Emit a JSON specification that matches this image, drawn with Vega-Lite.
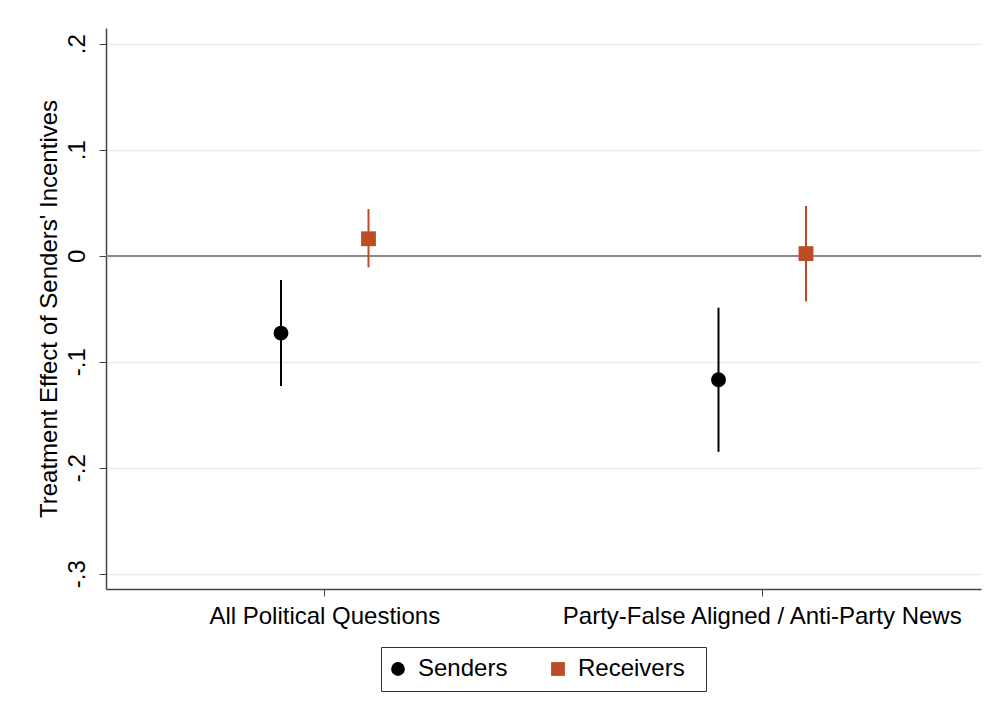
{
  "$schema": "https://vega.github.io/schema/vega-lite/v6.json",
  "width": 875,
  "height": 561,
  "autosize": {"type": "none"},
  "padding": {"left": 106, "top": 28, "right": 16, "bottom": 136},
  "background": "white",
  "config": {
    "view": {"stroke": null},
    "font": "Liberation Sans",
    "axis": {"labelFont": "Liberation Sans", "titleFont": "Liberation Sans", "labelColor": "black", "titleColor": "black", "titleFontWeight": "normal"},
    "legend": {"labelFont": "Liberation Sans", "labelColor": "black", "titleFont": "Liberation Sans"}
  },
  "data": {
    "values": [
      {"sample": "All Political Questions", "group": "Senders", "est": -0.073, "lo": -0.123, "hi": -0.023},
      {"sample": "All Political Questions", "group": "Receivers", "est": 0.016, "lo": -0.011, "hi": 0.044},
      {"sample": "Party-False Aligned / Anti-Party News", "group": "Senders", "est": -0.117, "lo": -0.185, "hi": -0.049},
      {"sample": "Party-False Aligned / Anti-Party News", "group": "Receivers", "est": 0.002, "lo": -0.043, "hi": 0.047}
    ]
  },
  "encoding": {
    "x": {
      "field": "sample", "type": "nominal", "sort": null, "title": null,
      "scale": {"type": "band", "paddingInner": 0.2, "paddingOuter": 0.1},
      "axis": {"labelAngle": 0, "labelFontSize": 24, "labelLimit": 1000, "tickSize": 7, "labelPadding": 8, "domainColor": "#444", "tickColor": "#444", "domainWidth": 1.5, "grid": false}
    },
    "xOffset": {
      "field": "group", "type": "nominal", "sort": ["Senders", "Receivers"],
      "scale": {"type": "band", "paddingInner": 0, "paddingOuter": 1}
    }
  },
  "layer": [
    {
      "mark": {"type": "rule", "color": "#888", "strokeWidth": 1.5},
      "encoding": {"y": {"datum": 0, "type": "quantitative"}, "x": null, "xOffset": null}
    },
    {
      "mark": {"type": "rule", "strokeWidth": 2},
      "encoding": {
        "y": {
          "field": "lo", "type": "quantitative",
          "title": "Treatment Effect of Senders' Incentives",
          "scale": {"domain": [-0.3144, 0.2148], "nice": false, "zero": false},
          "axis": {
            "values": [-0.3, -0.2, -0.1, 0, 0.1, 0.2],
            "labelExpr": "datum.value == 0 ? '0' : (datum.value < 0 ? '-.' : '.') + format(abs(datum.value) * 10, '.0f')",
            "labelAngle": -90, "labelAlign": "center", "labelBaseline": "bottom",
            "labelFontSize": 24, "labelPadding": 10, "tickSize": 7,
            "titleFontSize": 24, "titlePadding": 4,
            "grid": true, "gridColor": "#e8eeee", "gridWidth": 1.5,
            "domainColor": "#444", "tickColor": "#444", "domainWidth": 1.5
          }
        },
        "y2": {"field": "hi"},
        "color": {"field": "group", "type": "nominal", "title": "\u00a0",
          "scale": {"domain": ["Senders", "Receivers"], "range": ["black", "#bd4b26"]}}
      }
    },
    {
      "mark": {"type": "point", "filled": true, "opacity": 1, "size": 220},
      "encoding": {
        "y": {"field": "est", "type": "quantitative"},
        "color": {"field": "group", "type": "nominal", "title": "\u00a0",
          "scale": {"domain": ["Senders", "Receivers"], "range": ["black", "#bd4b26"]},
          "legend": {
            "orient": "none", "legendX": 275, "legendY": 619, "direction": "horizontal",
            "strokeColor": "#333", "padding": 10, "labelFontSize": 24, "labelOffset": 8,
            "titleOrient": "right", "titleFontSize": 24, "titlePadding": 11,
            "symbolOffset": -5,
            "symbolSize": 190, "symbolStrokeWidth": 0, "columnPadding": 43, "symbolOpacity": 1
          }},
        "shape": {"field": "group", "type": "nominal", "title": "\u00a0",
          "scale": {"domain": ["Senders", "Receivers"], "range": ["circle", "square"]}}
      }
    }
  ]
}
